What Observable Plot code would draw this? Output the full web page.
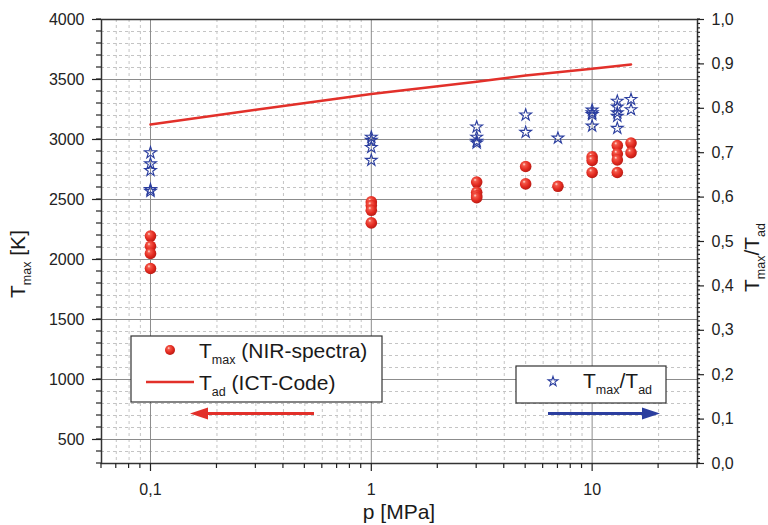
<!DOCTYPE html>
<html><head><meta charset="utf-8">
<script src="https://cdn.jsdelivr.net/npm/d3@7"></script>
<script src="https://cdn.jsdelivr.net/npm/@observablehq/plot@0.6"></script>
<style>body{margin:0;background:#fff}</style>
</head><body><div id="chart"></div>
<script>
// T_max (NIR-spectra) measurements, left axis [K]
const circleP = [0.1,0.1,0.1,0.1, 1,1,1,1, 3,3,3,3, 5,5, 7, 10,10,10, 13,13,13,13, 15,15];
const circleT = [2195,2110,2050,1925, 2480,2450,2410,2305, 2645,2560,2530,2515, 2775,2630, 2610, 2855,2825,2725, 2950,2880,2830,2725, 2970,2890];
// T_max/T_ad ratio, right axis
const starP = [0.1,0.1,0.1,0.1,0.1, 1,1,1,1, 3,3,3,3, 5,5, 7, 10,10,10,10, 13,13,13,13,13, 15,15];
const starR = [0.700,0.675,0.660,0.617,0.613, 0.735,0.728,0.712,0.683, 0.758,0.735,0.726,0.722, 0.785,0.746, 0.733, 0.796,0.790,0.786,0.760, 0.816,0.803,0.790,0.782,0.755, 0.820,0.797];
// T_ad (ICT-Code) line
const tadP = [0.1, 0.3, 1, 3, 5, 10, 15];
const tadT = [3125, 3247, 3380, 3482, 3533, 3590, 3625];
// ticks
const yTicks = [500,1000,1500,2000,2500,3000,3500,4000];
const ratioTicks = [0,0.1,0.2,0.3,0.4,0.5,0.6,0.7,0.8,0.9,1.0];
const xTicks = [0.1, 1, 10];
const xTickLabels = ["0,1", "1", "10"];
const xMinor = [0.06,0.07,0.08,0.09,0.2,0.3,0.4,0.5,0.6,0.7,0.8,0.9,2,3,4,5,6,7,8,9,20,30];

const FONT = "'Liberation Sans', Arial, Helvetica, sans-serif";
const yLo = 300, yHi = 4000;
const toK = r => yLo + r * (yHi - yLo);
const fmt = d => d.toFixed(1).replace(".", ",");

const balls = circleP.map((p, i) => ({p, t: circleT[i]}));
const stars = starP.map((p, i) => ({p, k: toK(starR[i])}));
const tad = tadP.map((p, i) => ({p, t: tadT[i]}));
const yMinor = d3.range(yLo, yHi + 1, 100);
const rMinor = d3.range(0, 101).map(i => toK(i / 100));
const rMajor = ratioTicks.map(toK);

const RED = "#e2302a", BLUE = "#2b3e9f";

function defs() {
  const g = d3.create("svg:g");
  const rg = g.append("defs").append("radialGradient").attr("id", "ball")
    .attr("cx", "0.42").attr("cy", "0.40").attr("r", "0.62").attr("fx", "0.36").attr("fy", "0.30");
  [[0, "#ffe4dc"], [0.22, "#f4594a"], [0.65, "#e2291f"], [1, "#b51a13"]].forEach(([o, c]) =>
    rg.append("stop").attr("offset", o).attr("stop-color", c));
  return g.node();
}

// minor (unlabelled) ticks, positioned through the plot's scales
function minorTicks(index, scales, values, dim) {
  const g = d3.create("svg:g").attr("stroke", "#222").attr("stroke-width", 1.2);
  const L = dim.marginLeft, R = dim.width - dim.marginRight, B = dim.height - dim.marginBottom;
  yMinor.forEach(v => { const y = scales.y(v); g.append("line").attr("x1", L - 5).attr("x2", L).attr("y1", y).attr("y2", y); });
  rMinor.forEach(v => { const y = scales.y(v); g.append("line").attr("x1", R).attr("x2", R + 3).attr("y1", y).attr("y2", y); });
  xMinor.forEach(v => { const x = scales.x(v); g.append("line").attr("x1", x).attr("x2", x).attr("y1", B).attr("y2", B + 5); });
  return g.node();
}

function subText(g, x, y, parts, anchor) {
  const t = g.append("text").attr("x", x).attr("y", y).style("white-space", "pre")
    .attr("text-anchor", anchor || "start");
  let cur = 0;
  parts.forEach(([s, size, off]) => {
    t.append("tspan").attr("font-size", size).attr("dy", off - cur).text(s);
    cur = off;
  });
  return t;
}

function decorations() {
  const g = d3.create("svg:g").attr("font-family", FONT).attr("fill", "#1a1a1a");
  // legend 1
  g.append("rect").attr("x", 131).attr("y", 336).attr("width", 251).attr("height", 66)
    .attr("fill", "white").attr("stroke", "#333").attr("stroke-width", 1.2);
  g.append("circle").attr("cx", 170).attr("cy", 350).attr("r", 5).attr("fill", "url(#ball)");
  subText(g, 199, 358, [["T", 21, 0], ["max", 12.5, 6], [" (NIR-spectra)", 21, 0]]);
  g.append("line").attr("x1", 146).attr("x2", 194).attr("y1", 382).attr("y2", 382)
    .attr("stroke", RED).attr("stroke-width", 2.5);
  subText(g, 199, 390, [["T", 21, 0], ["ad", 12.5, 6], [" (ICT-Code)", 21, 0]]);
  // legend 2
  g.append("rect").attr("x", 516).attr("y", 366).attr("width", 150).attr("height", 37)
    .attr("fill", "white").attr("stroke", "#333").attr("stroke-width", 1.2);
  g.append("path").attr("transform", "translate(553,381.5)")
    .attr("d", d3.symbol(d3.symbolStar, 30)()).attr("fill", "none").attr("stroke", BLUE).attr("stroke-width", 1.1);
  subText(g, 583, 388, [["T", 21, 0], ["max", 12.5, 6], ["/T", 21, 0], ["ad", 12.5, 6]]);
  // arrows
  g.append("line").attr("x1", 314).attr("x2", 205).attr("y1", 413.5).attr("y2", 413.5)
    .attr("stroke", RED).attr("stroke-width", 3);
  g.append("path").attr("d", "M190,413.5L208,407.5L208,419.5Z").attr("fill", RED);
  g.append("line").attr("x1", 548).attr("x2", 645).attr("y1", 413.5).attr("y2", 413.5)
    .attr("stroke", BLUE).attr("stroke-width", 3);
  g.append("path").attr("d", "M660,413.5L642,407.5L642,419.5Z").attr("fill", BLUE);
  // axis titles
  subText(g, 399, 519, [["p [MPa]", 21, 0]], "middle");
  const gl = g.append("g").attr("transform", "translate(25,298) rotate(-90)");
  subText(gl, 0, 0, [["T", 21, 0], ["max", 12.5, 6], [" [K]", 21, 0]]);
  const gr = g.append("g").attr("transform", "translate(759,292) rotate(-90)");
  subText(gr, 0, 0, [["T", 21, 0], ["max", 12.5, 6], ["/T", 21, 0], ["ad", 12.5, 6]]);
  return g.node();
}

const chart = Plot.plot({
  width: 768, height: 525,
  marginLeft: 101, marginRight: 71, marginTop: 19, marginBottom: 62,
  style: {fontFamily: FONT, fontSize: "16px", color: "#222", background: "white", overflow: "visible"},
  x: {type: "log", domain: [0.06, 30], label: null},
  y: {domain: [yLo, yHi], label: null},
  marks: [
    defs,
    Plot.gridY({ticks: yMinor, stroke: "#c4c4c4", strokeOpacity: 1, strokeDasharray: "3,3"}),
    Plot.gridX({ticks: xMinor, stroke: "#c4c4c4", strokeOpacity: 1, strokeDasharray: "3,3"}),
    Plot.gridY({ticks: yTicks, stroke: "#8c8c8c", strokeOpacity: 1}),
    Plot.gridX({ticks: xTicks, stroke: "#8c8c8c", strokeOpacity: 1}),
    Plot.frame({stroke: "#333", strokeWidth: 1.5}),
    Plot.line(tad, {x: "p", y: "t", stroke: RED, strokeWidth: 2.5}),
    Plot.dot(balls, {x: "p", y: "t", r: 5.8, fill: "url(#ball)"}),
    Plot.dot(stars, {x: "p", y: "k", symbol: "star", r: 3.7, fill: "white", fillOpacity: 0, stroke: BLUE, strokeWidth: 1.1}),
    decorations,
    minorTicks,
    Plot.axisY({ticks: yTicks, tickSize: 9, tickPadding: 8, tickFormat: d => String(d), stroke: "#222", strokeWidth: 1.2, fontSize: 16}),
    Plot.axisY({anchor: "right", ticks: rMajor, tickSize: 6, tickPadding: 8, tickFormat: d => fmt((d - yLo) / (yHi - yLo)), stroke: "#222", strokeWidth: 1.2, fontSize: 16}),
    Plot.axisX({ticks: xTicks, tickSize: 8, tickPadding: 12, tickFormat: d => xTickLabels[xTicks.indexOf(d)], stroke: "#222", strokeWidth: 1.2, fontSize: 16})
  ]
});
document.getElementById("chart").appendChild(chart);
</script>
</body></html>
